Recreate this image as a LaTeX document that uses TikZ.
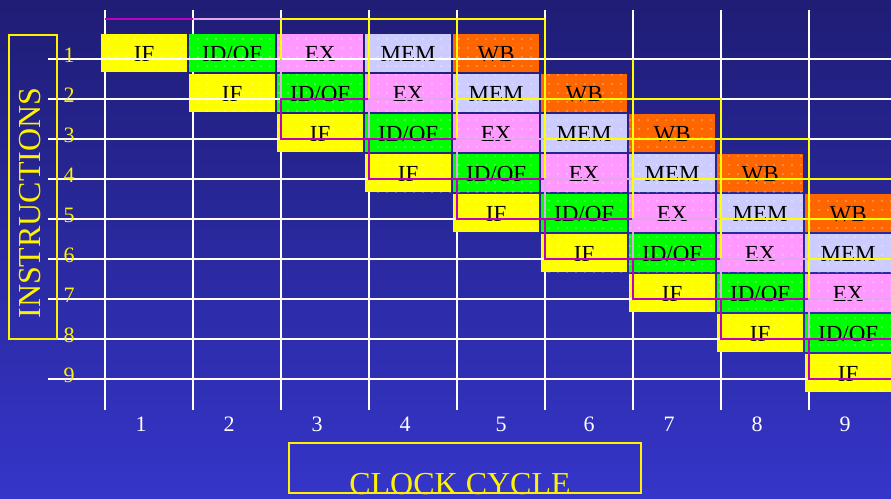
\documentclass[tikz,border=0pt]{standalone}
\usepackage{fontspec}
\setmainfont{Liberation Serif}
\usetikzlibrary{patterns}
\pgfdeclarepatternformonly{sparsedots}{\pgfqpoint{-1pt}{-1pt}}{\pgfqpoint{1pt}{1pt}}{\pgfqpoint{9pt}{9pt}}{\pgfpathcircle{\pgfpointorigin}{0.6pt}\pgfusepath{fill}}
\definecolor{bgtop}{HTML}{1F1D75}
\definecolor{bgbot}{HTML}{3535C9}
\definecolor{cIF}{HTML}{FFFF00}
\definecolor{cID}{HTML}{00FF00}
\definecolor{cEX}{HTML}{FF99FF}
\definecolor{cMEM}{HTML}{CCCCFF}
\definecolor{cWB}{HTML}{FF6600}
\definecolor{fmag}{HTML}{C000C0}
\definecolor{flav}{HTML}{E0A8E8}
\definecolor{fyel}{HTML}{FFFF00}
\newcommand\idoftxt{ID/OF}
\begin{document}
\begin{tikzpicture}[x=1pt,y=-1pt,
  stagebox/.style={minimum width=86pt, minimum height=38pt, inner sep=0pt, anchor=north west,
    text height=17pt, text depth=0pt, font=\fontsize{23}{23}\selectfont, text=black,
    postaction={pattern=sparsedots, pattern color=white}},
  gridline/.style={white, line width=1.8pt},
  framemag/.style={fmag, line width=2pt},
  framelav/.style={flav, line width=2pt},
  frameyel/.style={fyel, line width=2pt},
  rowlab/.style={anchor=base, text=yellow, font=\fontsize{22}{22}\selectfont, inner sep=0pt},
  collab/.style={anchor=base, text=white, font=\fontsize{22}{22}\selectfont, inner sep=0pt},
  titlelab/.style={text=yellow, font=\fontsize{32}{32}\selectfont, inner sep=0pt},
  titlebox/.style={draw=yellow, line width=1.6pt, inner sep=0pt}]
\useasboundingbox (0,0) rectangle (891,498);
\clip (0,0) rectangle (891,498);
\shade[top color=bgtop, bottom color=bgbot] (0,0) rectangle (891,498);
% vertical grid lines
\foreach \k in {0,...,8} {
  \draw[gridline] ({105+88*\k},10) -- ({105+88*\k},410);
}
% stage blocks
\foreach \r in {1,...,9} {
  \foreach \s/\txt/\col in {0/IF/cIF, 1/\idoftxt/cID, 2/EX/cEX, 3/MEM/cMEM, 4/WB/cWB} {
    \pgfmathtruncatemacro\cc{\r+\s}
    \ifnum\cc<10
      \node[stagebox, fill=\col] (b\r\s) at ({101+88*(\r-1+\s)},{34+40*(\r-1)}) {\txt};
    \fi
  }
}
% horizontal grid lines
\foreach \k in {1,...,9} {
  \draw[gridline] (48,{19+40*\k}) -- (891,{19+40*\k});
  \node[rowlab] (row\k) at (69,{22+40*\k}) {\k};
}
% column labels
\foreach \xx [count=\k] in {141,229,317,405,501,589,669,757,845} {
  \node[collab] (col\k) at (\xx,431) {\k};
}
% highlight frames
\draw[framemag] (105,19) -- (193,19);
\draw[framelav] (193,19) -- (281,19);
\draw[frameyel] (281,19) -- (545,19);
\foreach \xx in {281,369,457,545} { \draw[frameyel] (\xx,19) -- (\xx,59); }
\draw[framelav] (281,59) -- (281,99);
\foreach \xx in {369,457,545,633} { \draw[frameyel] (\xx,59) -- (\xx,99); }
\foreach \r in {3,...,9} {
  \pgfmathsetmacro\tp{19+40*(\r-1)}
  \pgfmathsetmacro\bt{19+40*\r}
  \pgfmathsetmacro\xo{105+88*(\r-1)}
  \draw[framemag] (\xo,\tp) rectangle ({\xo+88},\bt);
  \draw[framelav] ({\xo+88},\tp) rectangle ({\xo+176},\bt);
  \foreach \s in {2,3,4} {
    \draw[frameyel] ({\xo+88*\s},\tp) rectangle ({\xo+88*(\s+1)},\bt);
  }
}
% axis titles
\node[titlebox, minimum width=48pt, minimum height=304pt] (ibox) at (33,187) {};
\node[titlelab, rotate=90] (itext) at (30,203) {INSTRUCTIONS};
\node[titlebox, minimum width=352pt, minimum height=50pt] (cbox) at (465,468) {};
\node[titlelab, anchor=base] (ctext) at (460,494) {CLOCK CYCLE};
\end{tikzpicture}
\end{document}
